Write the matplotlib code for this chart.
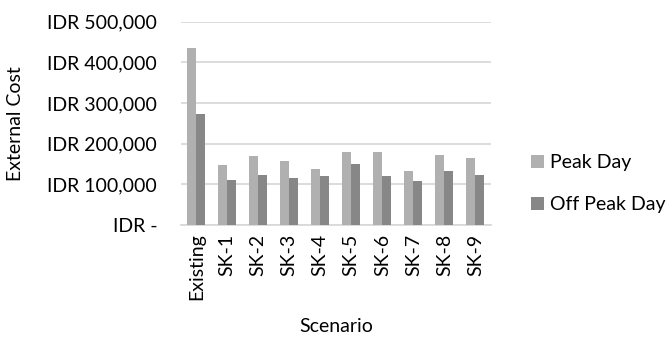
import numpy as np
import matplotlib.pyplot as plt
from matplotlib.ticker import FuncFormatter

# === Data ===
scenarios = ["Existing", "SK-1", "SK-2", "SK-3", "SK-4", "SK-5", "SK-6", "SK-7", "SK-8", "SK-9"]
peak_day = [436000, 147000, 169000, 157000, 138000, 180000, 180000, 134000, 172000, 165000]
off_peak_day = [273000, 111000, 124000, 117000, 121000, 150000, 121000, 109000, 134000, 123000]

plt.rcParams["font.family"] = ["Lato", "DejaVu Sans"]

fig = plt.figure(figsize=(6.67, 3.4), dpi=100)
ax = fig.add_axes([0.271, 0.338, 0.465, 0.598])

x = np.arange(len(scenarios))
w = 0.29
ax.bar(x - w / 2, peak_day, width=w, color="#b0b0b0", label="Peak Day", zorder=3)
ax.bar(x + w / 2, off_peak_day, width=w, color="#878787", label="Off Peak Day", zorder=3)

ax.set_xlim(-0.5, len(scenarios) - 0.5)
ax.set_ylim(0, 500000)
ax.set_yticks(np.arange(0, 500001, 100000))


def idr(v, pos):
    if v == 0:
        return "IDR -"
    return f"IDR {int(v):,}"


ax.yaxis.set_major_formatter(FuncFormatter(idr))
ax.grid(axis="y", color="#d9d9d9", linewidth=1.3, zorder=0)
for s in ["top", "right", "left"]:
    ax.spines[s].set_visible(False)
ax.spines["bottom"].set_color("#d9d9d9")
ax.spines["bottom"].set_linewidth(1.3)
ax.tick_params(axis="both", length=0, labelsize=14, colors="#000000")
ax.tick_params(axis="y", pad=17)
ax.tick_params(axis="x", pad=6)
ax.set_xticks(x)
ax.set_xticklabels(scenarios, rotation=90)

ax.set_ylabel("External Cost", fontsize=14)
ax.yaxis.set_label_coords(-0.505, 0.5)
ax.set_xlabel("Scenario", fontsize=14)
ax.xaxis.set_label_coords(0.5, -0.455)

fig.legend(loc="center left", bbox_to_anchor=(0.77, 0.46), frameon=False,
           fontsize=14, handlelength=0.65, handleheight=0.65, handletextpad=0.3,
           labelspacing=1.3)

fig.savefig("out.png", dpi=100)
